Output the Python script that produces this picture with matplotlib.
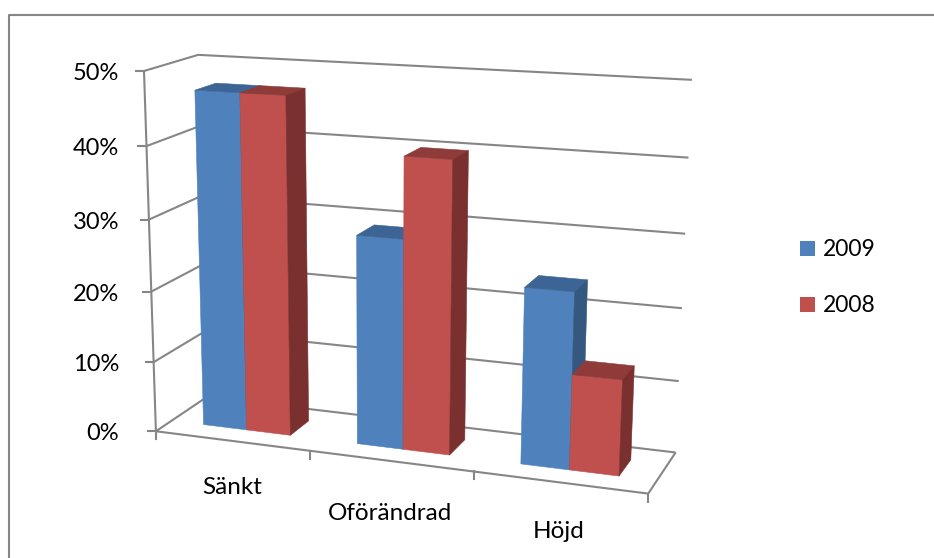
import numpy as np
import matplotlib
matplotlib.use("Agg")
import matplotlib.pyplot as plt
from matplotlib.patches import Polygon, Rectangle

plt.rcParams["font.family"] = ["Lato", "DejaVu Sans"]

# Survey shares per answer, in percent
categories = ["Sänkt", "Oförändrad", "Höjd"]
series_names = ["2009", "2008"]
values_2009 = [47, 29, 24]
values_2008 = [47, 40, 13]
pct_ticks = [0, 10, 20, 30, 40, 50]

BLUE = ("#4F81BD", "#3C6494", "#34587F")
RED = ("#C0504D", "#8E3B39", "#7A302E")
GRID = "#868686"

W, H = 934, 558
fig = plt.figure(figsize=(W / 100, H / 100), dpi=100)
ax = fig.add_axes([0, 0, 1, 1])
ax.set_xlim(0, W)
ax.set_ylim(H, 0)
ax.axis("off")

# Perspective camera for the chart box: solved from where the box corners sit
box = [
    ((0, 0, 0), (157.7, 430)), ((3, 0, 0), (648, 495)),
    ((0, 1, 0), (205, 398.3)), ((3, 1, 0), (676, 451)),
    ((0, 0, 50), (142.3, 71)), ((0, 1, 50), (200, 54.7)),
    ((3, 1, 50), (691.7, 80)),
]
A, b = [], []
for (x, y, z), (u, v) in box:
    A.append([x, y, z, 1, 0, 0, 0, 0, -u * x, -u * y, -u * z])
    A.append([0, 0, 0, 0, x, y, z, 1, -v * x, -v * y, -v * z])
    b += [u, v]
cam = np.append(np.linalg.lstsq(np.array(A, float), np.array(b, float), rcond=None)[0], 1).reshape(3, 4)


def project(points):
    p = np.column_stack([np.array(points, float), np.ones(len(points))])
    q = p @ cam.T
    return q[:, :2] / q[:, 2:]


def line(points, **kw):
    xy = project(points)
    ax.plot(xy[:, 0], xy[:, 1], color=GRID, lw=1.5, solid_capstyle="butt",
            solid_joinstyle="miter", **kw)


# Outer chart border
ax.plot([8.5, 8.5, 934], [558, 14.5, 14.5], color=GRID, lw=1.5)

# Walls, floor and axes
for z in pct_ticks:
    line([(0, 0, z), (0, 1, z), (3, 1, z)])
    y0 = project([(0, 0, z)])[0]
    ax.plot([y0[0] - 8, y0[0]], [y0[1], y0[1]], color=GRID, lw=1.5)
    ax.text(119, y0[1] + 2.5, f"{z}%", ha="right", va="center", fontsize=17, color="black")
line([(0, 0, 0), (0, 0, 50)])
line([(0, 0, 0), (3, 0, 0), (3, 1, 0)])
for x in range(4):
    p = project([(x, 0, 0)])[0]
    ax.plot([p[0], p[0]], [p[1], p[1] + 8], color=GRID, lw=1.5)


def bar(x0, x1, value, shades):
    y0, y1 = 0.3, 0.7
    front = [(x0, y0, 0), (x1, y0, 0), (x1, y0, value), (x0, y0, value)]
    side = [(x1, y0, 0), (x1, y1, 0), (x1, y1, value), (x1, y0, value)]
    top = [(x0, y0, value), (x1, y0, value), (x1, y1, value), (x0, y1, value)]
    for face, colour in zip((front, top, side), shades):
        ax.add_patch(Polygon(project(face), closed=True, facecolor=colour,
                             edgecolor=colour, lw=0.4, zorder=3))


bar_w = 1 / 3.5
for i, (a, c) in enumerate(zip(values_2009, values_2008)):
    left = i + 0.75 * bar_w
    bar(left, left + bar_w, a, BLUE)
    bar(left + bar_w, left + 2 * bar_w, c, RED)

# Category labels
for name, (cx, cy) in zip(categories, [(232, 487), (390, 514), (559, 531)]):
    ax.text(cx, cy, name, ha="center", va="center", fontsize=17.5, color="black")

# Legend
for name, shades, top in zip(series_names, (BLUE, RED), (241, 297)):
    ax.add_patch(Rectangle((800, top), 15, 15, facecolor=shades[0], edgecolor="none"))
    ax.text(823, top + 9, name, ha="left", va="center", fontsize=16.5, color="black")

fig.savefig("out.png", dpi=100)
